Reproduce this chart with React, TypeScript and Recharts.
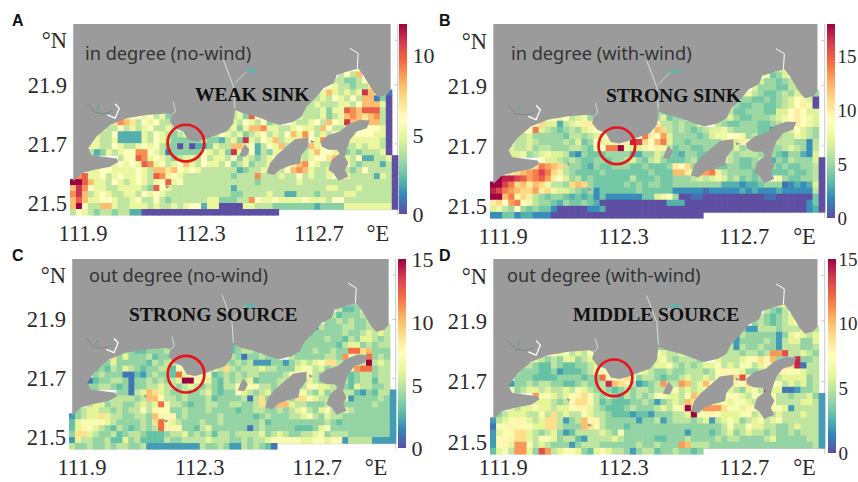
import { Bar, BarChart, ReferenceLine, Scatter, ScatterChart, XAxis, YAxis } from "recharts";

// grid of the model cells, degrees
const LON_MIN = 111.856;
const LON_MAX = 112.968;
const LAT_MIN = 21.46;
const LAT_MAX = 22.105;
const CELL_DEG = 0.0202;

const LON_TICKS = [111.9, 112.3, 112.7, 112.9];
const LAT_TICKS = [21.5, 21.7, 21.9, 22.05];

// one character per cell, base 36, "." = no cell; top row first, grouped for reading
const IN_NO_WIND = [
  ".......... .......... .......... .......... .......66. .....",
  ".......... .......... .......... .......... .....4648. .....",
  ".......... .......... .......... .......... ....443346 7....",
  ".......... .......... .......... .......... ...6544344 7....",
  ".......... .......... .......... .......... .45854545b 87.1.",
  ".......... .......... .......... .......... 4454654648 8130.",
  ".......... .......... .......... .........4 4544455468 8850.",
  ".......... .......... .......46. .........4 445355a98a aa40.",
  ".........5 6656453... .......453 a6......54 4453458987 8940.",
  ".......798 7465644... .......546 54634..544 564865b887 8840.",
  ".....54464 54564454.. ......4535 8895544565 5486445766 6650.",
  "....544622 2254654345 ....465453 4564546859 6454675566 6550.",
  "....544522 2254654333 334332453b 5465845578 6594465555 5540.",
  "...5544654 4565643303 0223544885 6246584444 8566844454 5540.",
  "...4235456 6996541333 3365453b53 6243558454 5866573434 4450.",
  "........46 6a95654345 5464554635 4345678554 5667855462 24450",
  ".......565 65a9564568 5465546345 3445866589 6544546434 44240",
  "...5566555 5654887865 6544444423 4454546898 5445564346 44440",
  ".9a5564565 5654a95654 4444444344 4944454464 5445645444 42540",
  "cca8554654 565456a564 4444444444 4344444454 4444444444 44440",
  "8b96554455 5543a65444 4444444244 4444444444 4445544454 44440",
  "9b84565445 5465654444 4444444334 4445442244 4344445544 44440",
  "8a85566544 5644643444 4445533344 9655655556 5554664444 44440",
  "8c64488544 5554544545 6625500005 5444333333 3233335555 55550",
  "4654344344 2200000000 0000000000 00000..... .......... .....",
];

const IN_WITH_WIND = [
  ".......... .......... .......... .......... .......67. .....",
  ".......... .......... .......... .......... .....8457. .....",
  ".......... .......... .......... .......... ....755456 8....",
  ".......... .......... .......... .......... ...7555446 6....",
  ".......... .......... .......... .......... .786544565 77.5.",
  ".......... .......... .......... .......... 6554454567 9870.",
  ".......... .......... .......... .........7 5445544567 9a80.",
  ".......... .......... .......55. .........6 4455544779 a977.",
  ".........9 9a96785... .......574 55......67 5445556789 a987.",
  ".......9b7 73678aa... .......a66 56557..654 4555445699 a987.",
  ".....99e76 54565789.. ......9cb6 5654567786 5555442567 9765.",
  "....667555 5546656789 ....9ea9d7 5555457889 9856423566 8765.",
  "....667655 55657459a8 88ahgb9ce7 5545555578 7a85555666 5526.",
  "...7667566 555665489e ei87789a86 4554455686 7565545567 6526.",
  "...7785678 7763254445 5553355765 4355445776 5666545435 5327.",
  "........97 7656544554 5567546754 44564349a6 5445653546 55570",
  ".......bed cb65543544 5554454445 a9b5554445 5445555454 45560",
  "...abcdege ba65444454 4444445444 cca7ddea65 5554554445 44560",
  ".ihhgfdefd a975645444 4446444544 5556767875 6454569854 45560",
  "iigebcacb8 665bcb5444 4454545544 5555555533 3233455512 32370",
  "hgedcbbdab 8776545244 4444544444 2222212222 2323222322 22260",
  "iice8ba654 5543434242 2222244789 5001100000 0000011000 00040",
  "ab9de98655 4354454300 0000000003 3300000000 0000000000 00240",
  "7865954544 2000002230 0000000000 0000000000 0000000000 00230",
  "2244233222 0000000000 0000000000 00000..... .......... .....",
];

const OUT_NO_WIND = [
  ".......... .......... .......... .......... .......44. .....",
  ".......... .......... .......... .......... .....5334. .....",
  ".......... .......... .......... .......... ....534445 5....",
  ".......... .......... .......... .......... ...4454544 5....",
  ".......... .......... .......... .......... .254445544 55.5.",
  ".......... .......... .......... .......... 3444445445 6565.",
  ".......... .......... .......... .........4 4445443546 6545.",
  ".......... .......... .......34. .........4 4444435664 5455.",
  ".........5 4334445... .......345 54......44 4544544cc9 a444.",
  ".......946 4445344... .......541 44544..544 444554b866 c454.",
  ".....44644 44435455.. ......5454 5222442456 5679954455 f565.",
  "....343546 5434455378 ....859545 5565544467 75645558bc c455.",
  "....454441 13245443c6 7887345454 5544445778 7544554345 5455.",
  "...1344554 144545456f f876435455 6344455776 6543445345 5355.",
  "...4455434 1445565545 6545435576 7855456555 8766544365 5445.",
  "........44 156a965445 4456434476 5456445787 5464545532 43552",
  ".......555 545aa85545 4445344445 1594457499 7655456244 44542",
  "...5664554 45656c7554 3445544554 4595aaa655 4445654444 45442",
  ".456655454 5575877445 4445444434 4554454567 5467546544 44442",
  "2456696554 4554a87845 4444454444 4345444556 7546554444 44442",
  "3677776544 44549c8654 4454454444 4453444444 4445434444 44442",
  "3687654354 34545c8884 4356444444 1454444433 3467444444 44442",
  "4996544534 5543334556 4545355455 5564565445 5674555444 44442",
  "2655445336 4533335445 5556555445 4556777776 6776772555 52222",
  "5445445455 4452222222 2254454225 45431..... .......... .....",
];

const OUT_WITH_WIND = [
  ".......... .......... .......... .......... .......66. .....",
  ".......... .......... .......... .......... .....5435. .....",
  ".......... .......... .......... .......... ....543456 7....",
  ".......... .......... .......... .......... ...4543456 7....",
  ".......... .......... .......... .......... .422555455 56.5.",
  ".......... .......... .......... .......... 2544444246 7656.",
  ".......... .......... .......... .........4 2444454256 6446.",
  ".......... .......... .......44. .........5 2544544255 5445.",
  ".........7 7675657... .......765 56......55 545545bbd5 5654.",
  ".......654 5466456... .......675 45554..655 567798a445 e445.",
  ".....55433 54334456.. ......5667 5454566756 5775687889 e155.",
  "....544433 4233345678 ....765445 4455545788 7644576887 7655.",
  "....444333 34444344c7 8897455434 4565565789 9d86544566 6645.",
  "...2445455 443345445e a9852345b5 5ba56a8765 8795567756 5645.",
  "...7456656 5565765454 3454554556 756567b876 54675e6611 2445.",
  ".......b77 6567897545 4354545776 657a9b7677 7657757554 55642",
  ".......666 5458998534 3334454245 65a9987676 7765677555 56652",
  "...6566766 5667886543 3345444565 78fa5bbb97 7687567762 55552",
  ".456665575 9565576554 3332332444 556f788766 6775675655 56552",
  "2567886569 95245a8854 4444244524 5554562567 6456756755 55552",
  "1778877669 95444a9754 4434444444 4444444457 5576655445 65552",
  "2677996545 6423555565 4744444444 4424443456 4565545445 45552",
  "2778996577 6455325555 6544444334 4454444545 5444456444 44552",
  "2786bb7565 4442455544 4444544544 4ba5554444 4444444444 44452",
  "3675bb64db 5677643686 5542455344 54434..... .......... .....",
];

// coast and islands, [lon, lat]
const COAST: number[][] = [
  [111.867, 22.105], [112.943, 22.105], [112.943, 21.882], [112.929, 21.865], [112.901, 21.858], [112.884, 21.877],
  [112.867, 21.905], [112.85, 21.933], [112.833, 21.955], [112.794, 21.944], [112.76, 21.933], [112.749, 21.905],
  [112.715, 21.888], [112.687, 21.854], [112.658, 21.826], [112.641, 21.792], [112.613, 21.775], [112.568, 21.764],
  [112.534, 21.775], [112.489, 21.792], [112.444, 21.803], [112.415, 21.815], [112.41, 21.77], [112.387, 21.742],
  [112.353, 21.73], [112.325, 21.719], [112.285, 21.708], [112.257, 21.713], [112.24, 21.742], [112.212, 21.753],
  [112.195, 21.775], [112.201, 21.798], [112.184, 21.803], [112.116, 21.798], [112.048, 21.787], [111.992, 21.764],
  [111.946, 21.725], [111.918, 21.685], [111.929, 21.663], [111.969, 21.657], [112.014, 21.651], [112.02, 21.64],
  [111.992, 21.623], [111.935, 21.612], [111.896, 21.601], [111.867, 21.573],
];
const ISLAND_WEST: number[][] = [
  [112.523, 21.601], [112.534, 21.635], [112.557, 21.663], [112.59, 21.691], [112.619, 21.716], [112.664, 21.722],
  [112.664, 21.691], [112.641, 21.663], [112.636, 21.635], [112.602, 21.626], [112.568, 21.614], [112.548, 21.595],
];
const ISLAND_EAST: number[][] = [
  [112.706, 21.708], [112.732, 21.73], [112.771, 21.742], [112.8, 21.767], [112.839, 21.781], [112.873, 21.779],
  [112.862, 21.753], [112.828, 21.742], [112.805, 21.713], [112.794, 21.68], [112.788, 21.657], [112.8, 21.635],
  [112.788, 21.612], [112.8, 21.59], [112.766, 21.576], [112.749, 21.601], [112.732, 21.612], [112.743, 21.646],
  [112.771, 21.668], [112.76, 21.68], [112.732, 21.68], [112.709, 21.691],
];
const ISLET_A: number[][] = [[112.449, 21.7], [112.464, 21.68], [112.453, 21.657], [112.43, 21.659], [112.438, 21.68]];
const ISLET_B: number[][] = [[112.67, 21.713], [112.687, 21.708], [112.675, 21.702]];
const ISLET_C: number[][] = [[112.11, 21.646], [112.122, 21.64], [112.116, 21.632]];
const ISLET_D: number[][] = [[112.178, 21.561], [112.195, 21.556], [112.184, 21.549]];
const RIVER_EAST: number[][] = [[112.805, 22.023], [112.833, 22.006], [112.83, 21.955]];
const RIVER_WEST: number[][] = [[112.009, 21.835], [112.023, 21.82], [112.009, 21.787], [111.983, 21.798]];
const RIVER_MID: number[][] = [[112.376, 21.984], [112.41, 21.894], [112.415, 21.82]];
const RIVER_ARM: number[][] = [[112.415, 21.905], [112.455, 21.944]];
const RIVER_SMALL: number[][] = [[112.206, 21.842], [112.214, 21.81], [112.201, 21.798]];
const CREEK_A: number[][] = [[111.915, 21.835], [111.94, 21.807], [111.969, 21.802], [112.0, 21.81]];
const CREEK_B: number[][] = [[111.956, 21.832], [111.945, 21.815]];
const POND: number[][] = [[112.455, 21.948], [112.487, 21.948]];

const SPECTRAL = ["#5e4fa2", "#3288bd", "#66c2a5", "#abdda4", "#e6f598", "#ffffbf", "#fee08b", "#fdae61", "#f46d43", "#d53e4f", "#9e0142"];

function spectral(t: number) {
  const p = Math.max(0, Math.min(1, t)) * (SPECTRAL.length - 1);
  const i = Math.min(Math.floor(p), SPECTRAL.length - 2);
  const a = SPECTRAL[i];
  const b = SPECTRAL[i + 1];
  const mix = (s: number) => {
    const va = parseInt(a.slice(s, s + 2), 16);
    const vb = parseInt(b.slice(s, s + 2), 16);
    return Math.round(va + (vb - va) * (p - i));
  };
  return `rgb(${mix(1)},${mix(3)},${mix(5)})`;
}

function decode(rows: string[]) {
  const cells: { lon: number; lat: number; v: number }[] = [];
  rows.forEach((row, r) => {
    row.replace(/ /g, "").split("").forEach((ch, c) => {
      if (ch === ".") return;
      cells.push({
        lon: LON_MIN + (c + 0.5) * CELL_DEG,
        lat: LAT_MIN + (rows.length - r - 0.5) * CELL_DEG,
        v: parseInt(ch, 36),
      });
    });
  });
  return cells;
}

const PANELS = [
  { id: "A", rows: IN_NO_WIND, max: 12, barTicks: [0, 5, 10], left: 70, top: 24, w: 328, h: 191, xGap: 10, circle: { lon: 112.249, lat: 21.703 },
    barLeft: 399, barTop: 24, barH: 190, barFont: 22, barGap: 6, letterX: 12, letterY: 12,
    title: "in degree (no-wind)", titleX: 85, titleY: 53, tag: "WEAK SINK", tagX: 195, tagY: 95 },
  { id: "B", rows: IN_WITH_WIND, max: 18, barTicks: [0, 5, 10, 15], left: 490, top: 24, w: 335, h: 194, xGap: 10, circle: { lon: 112.277, lat: 21.7 },
    barLeft: 827, barTop: 24, barH: 194, barFont: 19, barGap: 3, letterX: 439, letterY: 12,
    title: "in degree (with-wind)", titleX: 511, titleY: 53, tag: "STRONG SINK", tagX: 606, tagY: 96 },
  { id: "C", rows: OUT_NO_WIND, max: 15, barTicks: [0, 5, 10, 15], left: 69, top: 259, w: 327, h: 190, xGap: 10, circle: { lon: 112.254, lat: 21.714 },
    barLeft: 398, barTop: 259, barH: 189, barFont: 22, barGap: 6, letterX: 12, letterY: 247,
    title: "out degree (no-wind)", titleX: 89, titleY: 275, tag: "STRONG SOURCE", tagX: 129, tagY: 315 },
  { id: "D", rows: OUT_WITH_WIND, max: 15, barTicks: [0, 5, 10, 15], left: 490, top: 259, w: 335, h: 195, xGap: 5, circle: { lon: 112.268, lat: 21.712 },
    barLeft: 828, barTop: 259, barH: 194, barFont: 19, barGap: 3, letterX: 439, letterY: 247,
    title: "out degree (with-wind)", titleX: 507, titleY: 275, tag: "MIDDLE SOURCE", tagX: 573, tagY: 315 },
];

const FRAME = "#c9c9c9";
const LAND = "#9b9b9b";
const serif = "'Liberation Serif', serif";

function Panel({ p }: { p: (typeof PANELS)[number] }) {
  const cells = decode(p.rows);
  const cellW = (CELL_DEG / (LON_MAX - LON_MIN)) * p.w;
  const cellH = (CELL_DEG / (LAT_MAX - LAT_MIN)) * p.h;
  const BOTTOM = 21.478;

  const drawCell = (s: any) => (
    <rect
      x={s.cx - cellW / 2}
      y={s.cy - cellH / 2}
      width={cellW + 0.6}
      height={cellH + 0.6}
      fill={spectral(s.payload.v / p.max)}
    />
  );

  // anchor point sits on the top-left corner of the plot
  const drawLand = (s: any) => {
    const px = (pt: number[]) => `${s.cx + ((pt[0] - LON_MIN) / (LON_MAX - LON_MIN)) * p.w},${s.cy + ((LAT_MAX - pt[1]) / (LAT_MAX - LAT_MIN)) * p.h}`;
    const pts = (list: number[][]) => list.map(px).join(" ");
    return (
      <g>
        {[COAST, ISLAND_WEST, ISLAND_EAST, ISLET_A, ISLET_B, ISLET_C, ISLET_D].map((poly, i) => (
          <polygon key={i} points={pts(poly)} fill={LAND} />
        ))}
        <polyline points={pts(RIVER_EAST)} fill="none" stroke="#fff" strokeWidth={1} />
        <polyline points={pts(RIVER_WEST)} fill="none" stroke="#fff" strokeWidth={1.3} />
        <polyline points={pts(RIVER_MID)} fill="none" stroke="#d8e8d8" strokeWidth={0.9} />
        <polyline points={pts(RIVER_ARM)} fill="none" stroke="#e8e8e8" strokeWidth={0.7} />
        <polyline points={pts(RIVER_SMALL)} fill="none" stroke="#eee" strokeWidth={0.7} />
        <polyline points={pts(CREEK_A)} fill="none" stroke="#6f7f6f" strokeWidth={0.7} />
        <polyline points={pts(CREEK_B)} fill="none" stroke="#4aa0a0" strokeWidth={1} />
        <polyline points={pts(POND)} fill="none" stroke="#5fb6b0" strokeWidth={3.5} />
      </g>
    );
  };

  const drawCircle = (s: any) => <circle cx={s.cx} cy={s.cy} r={18.3} fill="none" stroke="#e8141c" strokeWidth={2.7} />;

  return (
    <>
      <div style={{ position: "absolute", left: p.left - 60, top: p.top - 10 }}>
        <ScatterChart width={p.w + 70} height={p.h + 50} margin={{ top: 10, right: 10, bottom: 0, left: 0 }}>
          <XAxis
            type="number"
            dataKey="lon"
            domain={[LON_MIN, LON_MAX]}
            ticks={LON_TICKS}
            interval={0}
            height={40}
            axisLine={false}
            tickLine={false}
            tickSize={0}
            tickMargin={p.xGap}
            tick={{ fontFamily: serif, fontSize: 22.5, fill: "#2b2b2b" }}
            tickFormatter={(v: number) => (v === 112.9 ? "°E" : v.toFixed(1))}
          />
          <YAxis
            type="number"
            dataKey="lat"
            domain={[LAT_MIN, LAT_MAX]}
            ticks={LAT_TICKS}
            interval={0}
            width={60}
            axisLine={false}
            tickLine={false}
            tickSize={0}
            tickMargin={3}
            tick={{ fontFamily: serif, fontSize: 22.5, fill: "#2b2b2b" }}
            tickFormatter={(v: number) => (v === 22.05 ? "°N" : v.toFixed(1))}
          />
          <ReferenceLine y={BOTTOM} stroke={FRAME} strokeWidth={1} />
          <ReferenceLine x={LON_MAX - 0.001} stroke={FRAME} strokeWidth={1} />
          {[112.7, 112.9].map((lon) => (
            <ReferenceLine key={lon} stroke={FRAME} segment={[{ x: lon, y: BOTTOM }, { x: lon, y: BOTTOM + 0.012 }]} />
          ))}
          {[21.7, 21.9, 22.05].map((lat) => (
            <ReferenceLine key={lat} stroke={FRAME} segment={[{ x: LON_MAX - 0.012, y: lat }, { x: LON_MAX, y: lat }]} />
          ))}
          <Scatter data={cells} shape={drawCell} isAnimationActive={false} />
          <Scatter data={[{ lon: LON_MIN, lat: LAT_MAX }]} shape={drawLand} isAnimationActive={false} />
          <Scatter data={[p.circle]} shape={drawCircle} isAnimationActive={false} />
        </ScatterChart>
      </div>

      <div style={{ position: "absolute", left: p.barLeft, top: p.barTop - 14 }}>
        <BarChart
          width={7.5 + 36}
          height={p.barH + 28}
          data={[{ name: "scale", top: p.max }]}
          margin={{ top: 14, right: 0, bottom: 14, left: 0 }}
          barCategoryGap={0}
        >
          <defs>
            <linearGradient id={`bar${p.id}`} x1="0" y1="1" x2="0" y2="0">
              {SPECTRAL.map((c, i) => (
                <stop key={c} offset={`${i * 10}%`} stopColor={c} />
              ))}
            </linearGradient>
          </defs>
          <XAxis dataKey="name" hide />
          <YAxis
            orientation="right"
            type="number"
            domain={[0, p.max]}
            ticks={p.barTicks}
            interval={0}
            width={36}
            axisLine={false}
            tickLine={false}
            tickSize={0}
            tickMargin={p.barGap}
            tick={{ fontFamily: serif, fontSize: p.barFont, fill: "#2b2b2b" }}
          />
          <Bar dataKey="top" fill={`url(#bar${p.id})`} isAnimationActive={false} />
        </BarChart>
      </div>

      <div style={{ position: "absolute", left: p.letterX, top: p.letterY, fontFamily: "'Liberation Sans', sans-serif", fontWeight: 700, fontSize: 16, lineHeight: "18px", color: "#111" }}>
        {p.id}
      </div>
      <div style={{ position: "absolute", left: p.titleX, top: p.titleY - 13, fontFamily: "'Noto Sans', sans-serif", fontSize: 18.2, lineHeight: "26px", color: "#333", whiteSpace: "nowrap" }}>
        {p.title}
      </div>
      <div style={{ position: "absolute", left: p.tagX, top: p.tagY - 11, fontFamily: serif, fontWeight: 700, fontSize: 19.5, lineHeight: "22px", color: "#111", whiteSpace: "nowrap" }}>
        {p.tag}
      </div>
    </>
  );
}

export default function App() {
  return (
    <div style={{ position: "absolute", left: 0, top: 0, width: 858, height: 482, overflow: "hidden", background: "#fff" }}>
      {PANELS.map((p) => (
        <Panel key={p.id} p={p} />
      ))}
    </div>
  );
}
